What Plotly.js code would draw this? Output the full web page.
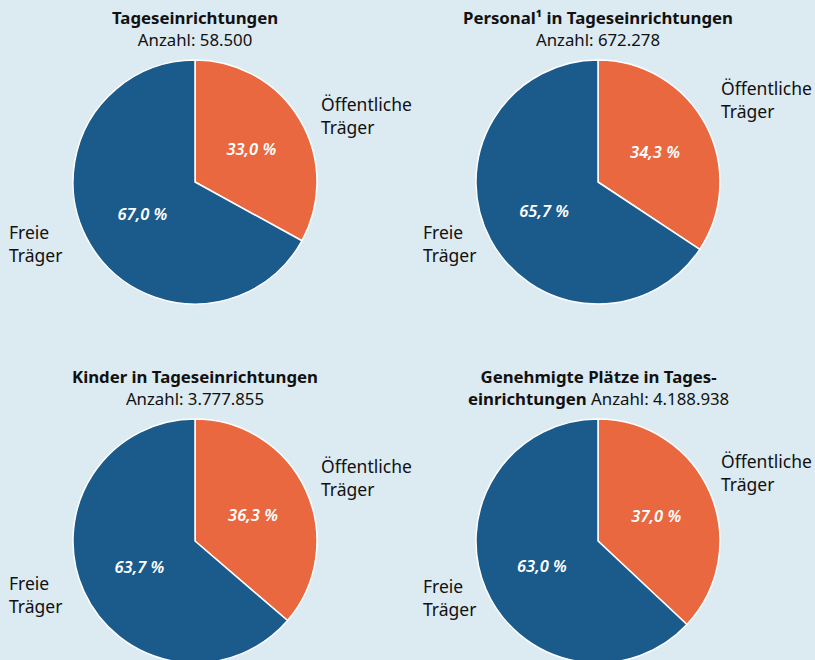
<!DOCTYPE html>
<html><head><meta charset="utf-8">
<script src="https://cdn.plot.ly/plotly-3.0.1.min.js"></script>
<style>html,body{margin:0;padding:0;overflow:hidden;background:#dceaf2;}</style>
</head><body><div id="chart"></div>
<script>
const titles = ["<b>Tageseinrichtungen</b><br>Anzahl: 58.500",
                "<b>Personal¹ in Tageseinrichtungen</b><br>Anzahl: 672.278",
                "<b>Kinder in Tageseinrichtungen</b><br>Anzahl: 3.777.855",
                "<b>Genehmigte Plätze in Tages-<br>einrichtungen</b> Anzahl: 4.188.938"];
const categories = ["Öffentliche Träger", "Freie Träger"];
const oeffentlich = [33.0, 34.3, 36.3, 37.0];
const freie = [67.0, 65.7, 63.7, 63.0];

const W = 815, H = 666;
const centers = [[195,182],[598,182],[195,541],[598,541]];
const R = 122;
const orange = "#e9683f", blue = "#1b5b8c";
const font = "Noto Sans, Open Sans, sans-serif";

const traces = [], ann = [];
centers.forEach((c,i) => {
  traces.push({
    type: "pie", values: [oeffentlich[i], freie[i]], labels: categories,
    sort: false, direction: "clockwise", rotation: 0,
    marker: {colors: [orange, blue], line: {color: "#ffffff", width: 1.5}},
    texttemplate: "%{value:.1f} %", textposition: "inside",
    insidetextorientation: "horizontal",
    textfont: {color: "#ffffff", size: 16.5, family: font, style: "italic", weight: 600},
    hoverinfo: "none", showlegend: false,
    domain: {x: [(c[0]-R)/W, (c[0]+R)/W], y: [(H-c[1]-R)/H, (H-c[1]+R)/H]}
  });
  ann.push({text: titles[i], xref: "paper", yref: "paper", x: c[0]/W, y: (H-(c[1]-154))/H,
    xanchor: "center", yanchor: "middle", showarrow: false, align: "center",
    font: {size: 16.8, family: font, color: "#111111"}});
});
const oeLab = [[319,116],[719,99],[319,478],[719,473]];
const frLab = [[7,243],[421,243],[7,594],[421,597]];
oeLab.forEach(p => ann.push({text: "Öffentliche<br>Träger", xref: "paper", yref: "paper",
  x: p[0]/W, y: (H-p[1])/H, xanchor: "left", yanchor: "middle", align: "left", showarrow: false,
  font: {size: 17.5, family: font, color: "#111111"}}));
frLab.forEach(p => ann.push({text: "Freie<br>Träger", xref: "paper", yref: "paper",
  x: p[0]/W, y: (H-p[1])/H, xanchor: "left", yanchor: "middle", align: "left", showarrow: false,
  font: {size: 17.5, family: font, color: "#111111"}}));

Plotly.newPlot("chart", traces, {
  width: W, height: H, margin: {l:0,r:0,t:0,b:0},
  paper_bgcolor: "#dceaf2", plot_bgcolor: "#dceaf2",
  separators: ",.", annotations: ann
}, {displayModeBar: false, staticPlot: true});
</script></body></html>
